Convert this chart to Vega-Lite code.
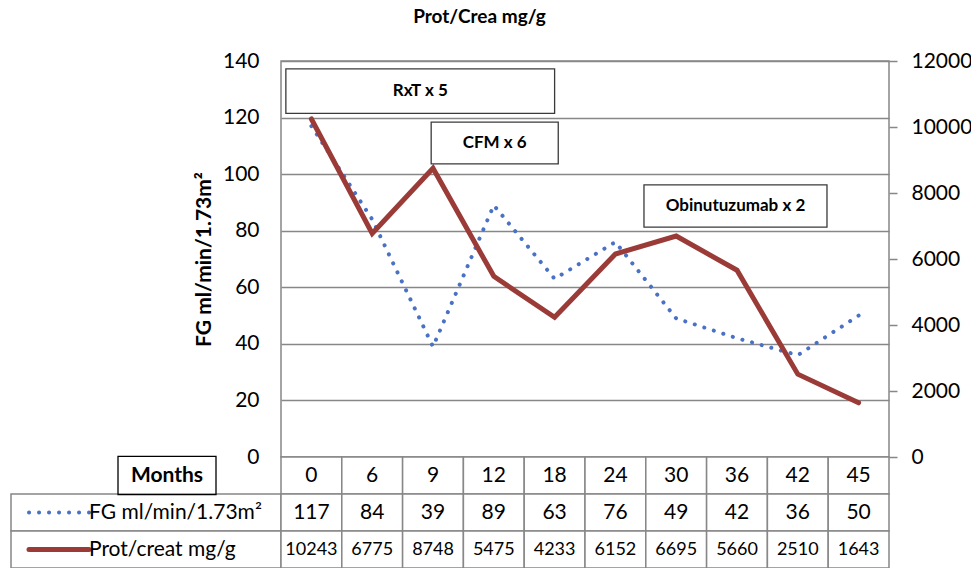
{
  "$schema": "https://vega.github.io/schema/vega-lite/v6.json",
  "padding": {"left": 10, "top": 8, "right": 5, "bottom": 0},
  "autosize": {"type": "pad"},
  "title": {"text": "Prot/Crea mg/g", "font": "Lato", "fontSize": 19, "fontWeight": "bold", "color": "#000", "anchor": "middle", "offset": 22, "dx": -12},
  "datasets": {
    "main": [
      {"month": "0", "fg": 117, "prot": 10243},
      {"month": "6", "fg": 84, "prot": 6775},
      {"month": "9", "fg": 39, "prot": 8748},
      {"month": "12", "fg": 89, "prot": 5475},
      {"month": "18", "fg": 63, "prot": 4233},
      {"month": "24", "fg": 76, "prot": 6152},
      {"month": "30", "fg": 49, "prot": 6695},
      {"month": "36", "fg": 42, "prot": 5660},
      {"month": "42", "fg": 36, "prot": 2510},
      {"month": "45", "fg": 50, "prot": 1643}
    ],
    "notes": [
      {"label": "RxT x 5", "c1": 0.08, "c2": 4.5, "v1": 121.5, "v2": 137.2},
      {"label": "CFM x 6", "c1": 2.47, "c2": 4.56, "v1": 103.6, "v2": 118.4},
      {"label": "Obinutuzumab x 2", "c1": 5.97, "c2": 8.98, "v1": 81.3, "v2": 96.2}
    ],
    "rows": [
      {"row": "month", "label": "Months"},
      {"row": "fg", "label": "FG ml/min/1.73m²"},
      {"row": "prot", "label": "Prot/creat mg/g"}
    ]
  },
  "columns": 2,
  "spacing": 0,
  "bounds": "flush",
  "concat": [
    {
      "width": 270,
      "height": 396,
      "data": {"values": []},
      "mark": "point"
    },
    {
      "width": 608,
      "height": 396,
      "view": {"stroke": "#878787", "strokeWidth": 1.5},
      "layer": [
        {
          "data": {"name": "main"},
          "mark": {"type": "line", "strokeDash": [0.1, 9.9], "strokeCap": "round", "strokeWidth": 4},
          "encoding": {
            "x": {"field": "month", "type": "ordinal", "scale": {"type": "point", "domain": ["0", "6", "9", "12", "18", "24", "30", "36", "42", "45"], "padding": 0.5}, "axis": null},
            "y": {
              "field": "fg", "type": "quantitative",
              "scale": {"domain": [0, 140]},
              "axis": {
                "values": [0, 20, 40, 60, 80, 100, 120, 140],
                "grid": true, "gridColor": "#878787", "gridWidth": 1.5,
                "domain": false, "ticks": false,
                "labelFont": "Lato", "labelFontSize": 21, "labelColor": "#000", "labelPadding": 22,
                "title": "FG ml/min/1.73m²", "titleFont": "Lato", "titleFontSize": 21, "titleFontWeight": "bold", "titleColor": "#000", "titlePadding": 8
              }
            },
            "color": {
              "datum": "FG ml/min/1.73m²", "type": "nominal",
              "scale": {"domain": ["FG ml/min/1.73m²", "Prot/creat mg/g"], "range": ["#4A72C4", "#9B3B38"]},
              "legend": null
            }
          }
        },
        {
          "data": {"name": "main"},
          "mark": {"type": "line", "strokeWidth": 5, "strokeCap": "round"},
          "encoding": {
            "x": {"field": "month", "type": "ordinal", "scale": {"type": "point", "domain": ["0", "6", "9", "12", "18", "24", "30", "36", "42", "45"], "padding": 0.5}, "axis": null},
            "y": {
              "field": "prot", "type": "quantitative",
              "scale": {"domain": [0, 12000]},
              "axis": {
                "orient": "right",
                "values": [0, 2000, 4000, 6000, 8000, 10000, 12000],
                "format": "d",
                "grid": false, "domain": false,
                "tickSize": 8, "tickColor": "#878787", "tickWidth": 1.5,
                "labelFont": "Lato", "labelFontSize": 21, "labelColor": "#000", "labelPadding": 14,
                "title": null
              }
            },
            "color": {"datum": "Prot/creat mg/g", "type": "nominal", "legend": null}
          }
        },
        {
          "data": {"name": "notes"},
          "mark": {"type": "rect", "fill": "#fff", "stroke": "#3a3a3a", "strokeWidth": 1.3},
          "encoding": {
            "x": {"field": "c1", "type": "quantitative", "scale": {"domain": [0, 10]}, "axis": null},
            "x2": {"field": "c2"},
            "y": {"field": "v1", "type": "quantitative", "scale": {"domain": [0, 140]}, "axis": null},
            "y2": {"field": "v2"}
          }
        },
        {
          "data": {"name": "notes"},
          "transform": [
            {"calculate": "(datum.c1 + datum.c2) / 2", "as": "cx"},
            {"calculate": "(datum.v1 + datum.v2) / 2", "as": "cy"}
          ],
          "mark": {"type": "text", "font": "Lato", "fontSize": 17, "fontWeight": "bold", "color": "#000", "align": "center", "baseline": "middle"},
          "encoding": {
            "x": {"field": "cx", "type": "quantitative", "scale": {"domain": [0, 10]}, "axis": null},
            "y": {"field": "cy", "type": "quantitative", "scale": {"domain": [0, 140]}, "axis": null},
            "text": {"field": "label"}
          }
        }
      ],
      "resolve": {"scale": {"x": "independent", "y": "independent"}}
    },
    {
      "width": 270,
      "height": 111,
      "data": {"name": "rows"},
      "encoding": {
        "y": {"field": "row", "type": "nominal", "scale": {"domain": ["month", "fg", "prot"], "paddingInner": 0, "paddingOuter": 0}, "axis": null}
      },
      "layer": [
        {
          "transform": [{"filter": "datum.row !== 'month'"}],
          "mark": {"type": "rect", "fill": "#fff", "stroke": "#878787", "strokeWidth": 1.5}
        },
        {
          "transform": [{"filter": "datum.row !== 'month'"}],
          "mark": {"type": "point", "shape": "M-1,0H1", "size": 3600, "filled": false, "strokeCap": "round", "opacity": 1, "xOffset": -87},
          "encoding": {
            "stroke": {"condition": {"test": "datum.row === 'fg'", "value": "#4A72C4"}, "value": "#9B3B38"},
            "strokeDash": {"condition": {"test": "datum.row === 'fg'", "value": [0.1, 9.9]}, "value": [1, 0]},
            "strokeWidth": {"condition": {"test": "datum.row === 'fg'", "value": 4}, "value": 5}
          }
        },
        {
          "transform": [{"filter": "datum.row !== 'month'"}],
          "mark": {"type": "text", "font": "Lato", "fontSize": 21, "color": "#000", "align": "left", "baseline": "middle", "xOffset": -57},
          "encoding": {
            "text": {"field": "label"}
          }
        },
        {
          "transform": [{"filter": "datum.row === 'month'"}],
          "mark": {"type": "point", "shape": "M-1,-0.39H1V0.39H-1Z", "size": 9604, "filled": false, "stroke": "#000", "strokeWidth": 1.3, "opacity": 1, "xOffset": 21}
        },
        {
          "transform": [{"filter": "datum.row === 'month'"}],
          "mark": {"type": "text", "font": "Lato", "fontSize": 21, "fontWeight": "bold", "color": "#000", "xOffset": 21, "baseline": "middle"},
          "encoding": {
            "text": {"field": "label"}
          }
        }
      ]
    },
    {
      "width": 608,
      "height": 111,
      "data": {"name": "main"},
      "transform": [{"fold": ["month", "fg", "prot"], "as": ["row", "val"]}],
      "encoding": {
        "x": {"field": "month", "type": "ordinal", "scale": {"domain": ["0", "6", "9", "12", "18", "24", "30", "36", "42", "45"], "paddingInner": 0, "paddingOuter": 0}, "axis": null},
        "y": {"field": "row", "type": "nominal", "scale": {"domain": ["month", "fg", "prot"], "paddingInner": 0, "paddingOuter": 0}, "axis": null}
      },
      "layer": [
        {"mark": {"type": "rect", "fill": "#fff", "stroke": "#878787", "strokeWidth": 1.5}},
        {
          "mark": {"type": "text", "font": "Lato", "color": "#000", "baseline": "middle"},
          "encoding": {
            "text": {"field": "val", "type": "nominal"},
            "size": {"condition": {"test": "datum.row === 'prot'", "value": 18}, "value": 21}
          }
        }
      ]
    }
  ],
  "config": {"view": {"stroke": null}, "font": "Lato"}
}
